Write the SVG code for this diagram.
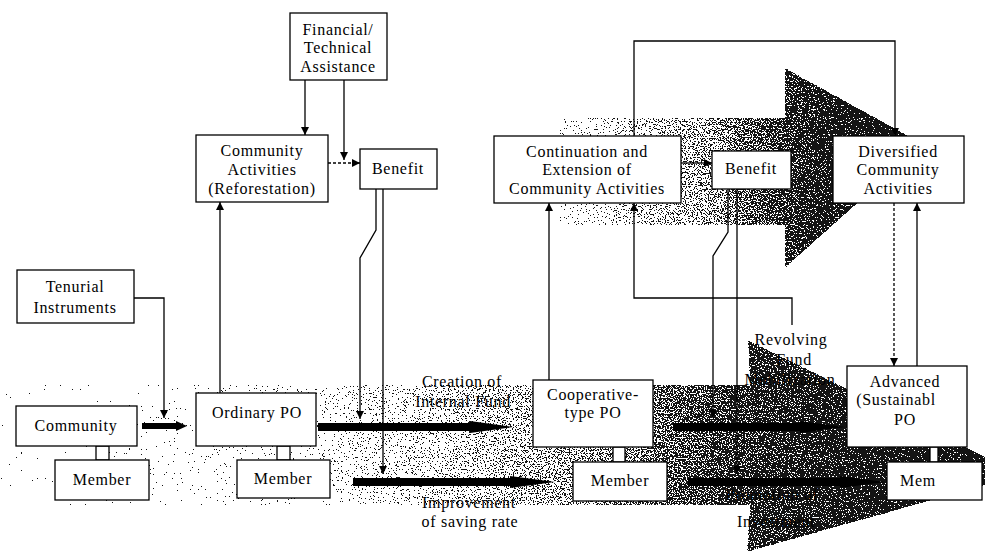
<svg xmlns="http://www.w3.org/2000/svg" width="985" height="551" viewBox="0 0 985 551">
<style>
.box{fill:#fff;stroke:#000;stroke-width:1.3}
.t{font-family:"Liberation Serif","Times New Roman",serif;font-size:16px;letter-spacing:0.7px;fill:#000;text-anchor:middle}
.ln{fill:none;stroke:#000;stroke-width:1.3}
.dash{stroke-dasharray:3 2}
.thick{fill:#000}
</style>
<defs>
<marker id="ah" viewBox="0 0 10 10" refX="10" refY="5" markerWidth="8" markerHeight="8" markerUnits="userSpaceOnUse" orient="auto">
<path d="M0,0 L10,5 L0,10 z" fill="#000"/>
</marker>
<linearGradient id="gLow" gradientUnits="userSpaceOnUse" x1="0" y1="0" x2="985" y2="0">
<stop offset="0" stop-color="#000" stop-opacity="0.2"/>
<stop offset="0.3" stop-color="#000" stop-opacity="0.3"/>
<stop offset="0.5" stop-color="#000" stop-opacity="0.4"/>
<stop offset="0.65" stop-color="#000" stop-opacity="0.5"/>
<stop offset="0.76" stop-color="#000" stop-opacity="0.6"/>
<stop offset="1" stop-color="#000" stop-opacity="0.7"/>
</linearGradient>
<linearGradient id="gUp" gradientUnits="userSpaceOnUse" x1="560" y1="0" x2="930" y2="0">
<stop offset="0" stop-color="#000" stop-opacity="0.3"/>
<stop offset="0.4" stop-color="#000" stop-opacity="0.45"/>
<stop offset="0.65" stop-color="#000" stop-opacity="0.62"/>
<stop offset="1" stop-color="#000" stop-opacity="0.76"/>
</linearGradient>
<filter id="grain" filterUnits="userSpaceOnUse" x="0" y="0" width="985" height="551" color-interpolation-filters="sRGB">
<feTurbulence type="fractalNoise" baseFrequency="0.75" numOctaves="2" seed="7" result="n"/>
<feColorMatrix in="n" type="matrix" values="0 0 0 0 0  0 0 0 0 0  0 0 0 0 0  1 0 0 0 0" result="na"/>
<feComposite in="SourceGraphic" in2="na" operator="arithmetic" k1="0" k2="1" k3="1" k4="-0.5" result="s"/>
<feComponentTransfer in="s">
<feFuncR type="linear" slope="0" intercept="0.08"/>
<feFuncG type="linear" slope="0" intercept="0.08"/>
<feFuncB type="linear" slope="0" intercept="0.08"/>
<feFuncA type="discrete" tableValues="0 1"/>
</feComponentTransfer>
</filter>
</defs>
<rect width="985" height="551" fill="#fff"/>
<g id="shading" filter="url(#grain)">
<polygon fill="url(#gLow)" points="0,385 750,385 748,340 1022,475 747,552 750,505 0,505"/>
<polygon fill="url(#gUp)" points="560,118 785,118 785,68 923,144 785,268 785,225 560,225"/>
</g>
<g id="connectors">
<line class="ln" x1="305" y1="80" x2="305" y2="135" marker-end="url(#ah)"/>
<line class="ln" x1="344" y1="80" x2="344" y2="160" marker-end="url(#ah)"/>
<line class="ln dash" x1="328" y1="163" x2="360" y2="163" marker-end="url(#ah)"/>
<line class="ln" x1="220" y1="393" x2="220" y2="202" marker-end="url(#ah)"/>
<polyline class="ln" points="134,298 164,298 164,418" marker-end="url(#ah)"/>
<polyline class="ln" points="376,189 376,230 360,258 360,419" marker-end="url(#ah)"/>
<polyline class="ln" points="383,189 383,474" marker-end="url(#ah)"/>
<line class="ln" x1="549" y1="380" x2="549" y2="203" marker-end="url(#ah)"/>
<polyline class="ln" points="792,325 792,298 634,298 634,203" marker-end="url(#ah)"/>
<polyline class="ln" points="634,136 634,41 895,41 895,136" marker-end="url(#ah)"/>
<line class="ln" x1="681" y1="163" x2="712" y2="163" marker-end="url(#ah)"/>
<polyline class="ln" points="728,189 728,232 713,256 713,418" marker-end="url(#ah)"/>
<line class="ln" x1="737" y1="189" x2="737" y2="474" marker-end="url(#ah)"/>
<line class="ln dash" x1="894" y1="203" x2="894" y2="366" marker-end="url(#ah)"/>
<line class="ln" x1="917" y1="366" x2="917" y2="203" marker-end="url(#ah)"/>
<polygon class="thick" points="142,423 176,423 176,421 187,426 176,431 176,429 142,429"/>
<polygon class="thick" points="318,423 470,423 470,421 513,427 470,433 470,431 318,431"/>
<polygon class="thick" points="353,478 510,478 510,476 555,482 510,488 510,486 353,486"/>
<polygon class="thick" points="673,423 800,423 800,421 845,427 800,433 800,431 673,431"/>
<polygon class="thick" points="688,478 840,478 840,476 885,482 840,488 840,486 688,486"/>
<rect class="box" x="96" y="446" width="13" height="14"/>
<rect class="box" x="277" y="446" width="13" height="14"/>
<rect class="box" x="613" y="447" width="12" height="15"/>
<rect class="box" x="930" y="447" width="8" height="15"/>
</g>
<g id="fin"><rect class="box" x="290" y="13" width="97" height="67"/>
<text class="t" x="338" y="35">Financial/</text><text class="t" x="338" y="53">Technical</text><text class="t" x="338" y="72">Assistance</text></g>
<g id="commact"><rect class="box" x="196" y="135" width="132" height="67"/>
<text class="t" x="262" y="156">Community</text><text class="t" x="262" y="175">Activities</text><text class="t" x="262" y="194">(Reforestation)</text></g>
<g id="benefit1"><rect class="box" x="360" y="149" width="77" height="40"/>
<text class="t" x="398" y="174">Benefit</text></g>
<g id="tenurial"><rect class="box" x="17" y="270" width="117" height="53"/>
<text class="t" x="75" y="292">Tenurial</text><text class="t" x="75" y="313">Instruments</text></g>
<g id="community"><rect class="box" x="16" y="406" width="121" height="40"/>
<text class="t" x="76" y="431">Community</text></g>
<g id="member1"><rect class="box" x="55" y="460" width="94" height="40"/>
<text class="t" x="102" y="485">Member</text></g>
<g id="ordinary"><rect class="box" x="196" y="393" width="120" height="53"/>
<text class="t" x="257" y="418">Ordinary PO</text></g>
<g id="member2"><rect class="box" x="237" y="460" width="93" height="38"/>
<text class="t" x="283" y="484">Member</text></g>
<g id="labels1">
<text class="t" x="462" y="387">Creation of</text><text class="t" x="463" y="407">Internal Fund</text>
<text class="t" x="469" y="508">Improvement</text><text class="t" x="470" y="527">of saving rate</text>
</g>
<g id="coop"><rect class="box" x="533" y="380" width="120" height="67"/>
<text class="t" x="593" y="400">Cooperative-</text><text class="t" x="593" y="418">type PO</text></g>
<g id="member3"><rect class="box" x="573" y="462" width="94" height="39"/>
<text class="t" x="620" y="486">Member</text></g>
<g id="continuation"><rect class="box" x="494" y="136" width="187" height="67"/>
<text class="t" x="587" y="157">Continuation and</text><text class="t" x="587" y="175">Extension of</text><text class="t" x="587" y="194">Community Activities</text></g>
<g id="benefit2"><rect class="box" x="712" y="151" width="79" height="38"/>
<text class="t" x="751" y="174">Benefit</text></g>
<g id="diversified"><rect class="box" x="833" y="136" width="131" height="67"/>
<text class="t" x="898" y="157">Diversified</text><text class="t" x="898" y="175">Community</text><text class="t" x="898" y="194">Activities</text></g>
<g id="labels2">
<text class="t" x="791" y="345">Revolving</text><text class="t" x="794" y="365">Fund</text><text class="t" x="790" y="385">Mobilization</text>
<text class="t" x="772" y="500">Promotion of</text><text class="t" x="776" y="527">Investment</text>
</g>
<g id="advanced"><rect class="box" x="847" y="366" width="120" height="81"/>
<text class="t" x="905" y="387">Advanced</text><text class="t" x="896" y="405">(Sustainabl</text><text class="t" x="905" y="425">PO</text></g>
<g id="mem"><rect class="box" x="887" y="462" width="95" height="38"/>
<text class="t" x="918" y="486">Mem</text></g>
</svg>
